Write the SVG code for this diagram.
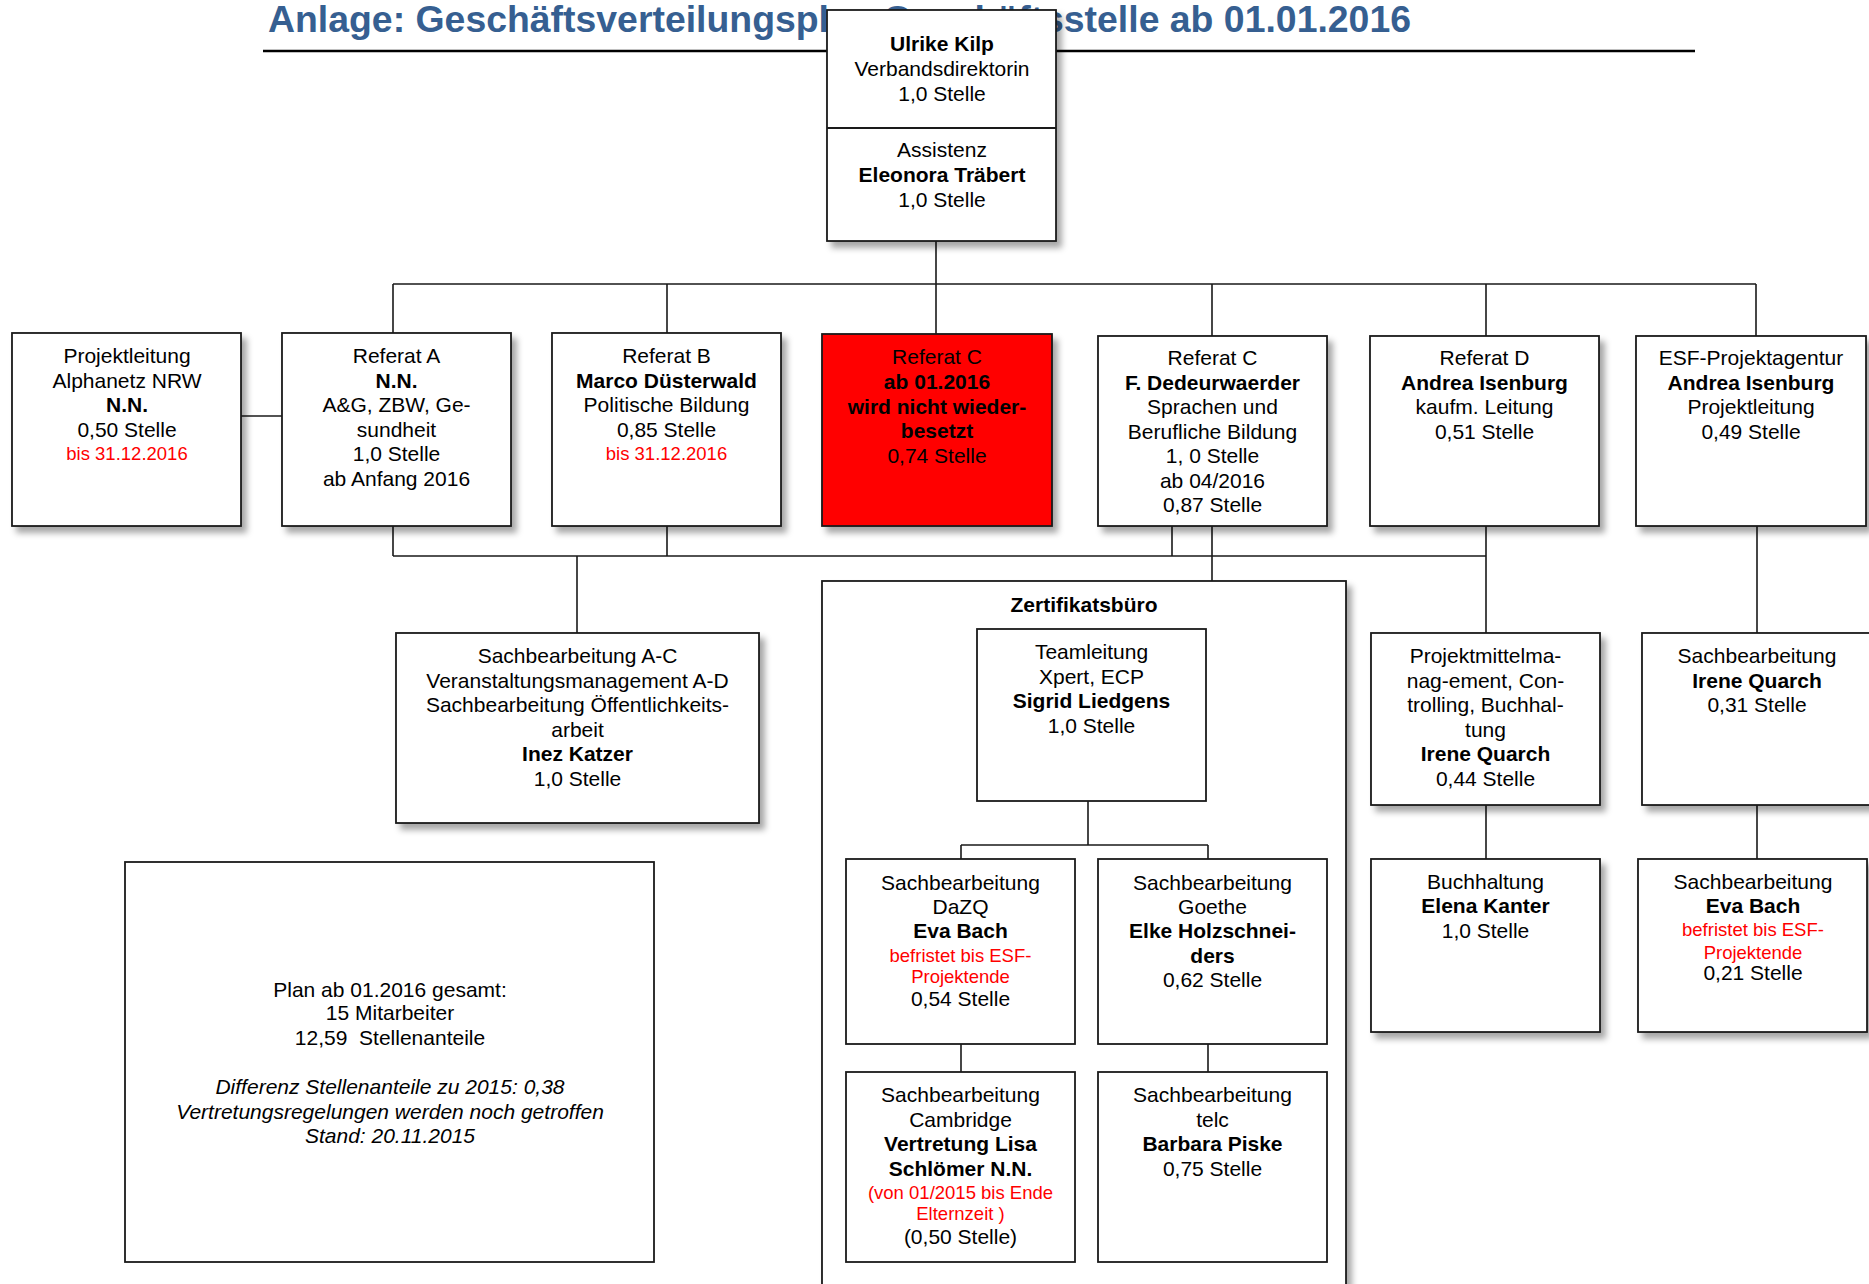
<svg xmlns="http://www.w3.org/2000/svg" width="1869" height="1284" viewBox="0 0 1869 1284">
<defs>
<filter id="sh" x="-10%" y="-10%" width="130%" height="130%">
<feDropShadow dx="5" dy="6" stdDeviation="3" flood-color="#000" flood-opacity="0.35"/>
</filter>
<style>
.b{fill:#fff;stroke:#1a1a1a;stroke-width:1.8}
.s{filter:url(#sh)}
.red{fill:#ff0000;stroke:#1a1a1a;stroke-width:1.8}
text{font-family:"Liberation Sans",Arial,sans-serif;font-size:21px;fill:#000;text-anchor:middle}
.bd{font-weight:bold}
.r{fill:#ff0000;font-size:18.5px}
.it{font-style:italic}
.title{font-size:37.4px;font-weight:bold;fill:#365f91;text-anchor:start}
.c{fill:none;stroke:#1a1a1a;stroke-width:1.6}
</style>
</defs>
<rect width="1869" height="1284" fill="#fff"/>
<g id="title">
<text class="title" x="268" y="32">Anlage: Geschäftsverteilungsplan Geschäftsstelle ab 01.01.2016</text>
<line x1="263" y1="51" x2="1695" y2="51" stroke="#000" stroke-width="2.5"/>
</g>
<g id="zertifikatsbuero">
<rect class="b s" x="822" y="581" width="524" height="740"/>
<text class="bd" x="1084" y="612">Zertifikatsbüro</text>
</g>
<g id="connectors" class="c">
<path d="M936 241V284M393 284H1756M393 284V333M667 284V333M936 284V334M1212 284V336M1486 284V336M1756 284V336"/>
<path d="M241 416H282"/>
<path d="M393 526V556M667 526V556M1172 526V556M1212 526V581M1486 526V633M393 556H1486M577 556V633"/>
<path d="M1757 526V633M1486 805V859M1757 805V859"/>
<path d="M1088 801V845M961 845H1208M961 845V859M1208 845V859M961 1044V1072M1208 1044V1072"/>
</g>
<g id="leitung">
<rect class="b s" x="827" y="10" width="229" height="231"/>
<line x1="827" y1="128" x2="1056" y2="128" stroke="#1a1a1a" stroke-width="1.8"/>
<text class="bd" x="942" y="51">Ulrike Kilp</text>
<text x="942" y="76">Verbandsdirektorin</text>
<text x="942" y="101">1,0 Stelle</text>
<text x="942" y="157">Assistenz</text>
<text class="bd" x="942" y="182">Eleonora Träbert</text>
<text x="942" y="207">1,0 Stelle</text>
</g>
<g id="projektleitung">
<rect class="b s" x="12" y="333" width="229" height="193"/>
<text x="127" y="363">Projektleitung</text>
<text x="127" y="387.5">Alphanetz NRW</text>
<text class="bd" x="127" y="412">N.N.</text>
<text x="127" y="436.5">0,50 Stelle</text>
<text class="r" x="127" y="460">bis 31.12.2016</text>
</g>
<g id="referatA">
<rect class="b s" x="282" y="333" width="229" height="193"/>
<text x="396.5" y="363">Referat A</text>
<text class="bd" x="396.5" y="387.5">N.N.</text>
<text x="396.5" y="412">A&amp;G, ZBW, Ge-</text>
<text x="396.5" y="436.5">sundheit</text>
<text x="396.5" y="461">1,0 Stelle</text>
<text x="396.5" y="485.5">ab Anfang 2016</text>
</g>
<g id="referatB">
<rect class="b s" x="552" y="333" width="229" height="193"/>
<text x="666.5" y="363">Referat B</text>
<text class="bd" x="666.5" y="387.5">Marco Düsterwald</text>
<text x="666.5" y="412">Politische Bildung</text>
<text x="666.5" y="436.5">0,85 Stelle</text>
<text class="r" x="666.5" y="460">bis 31.12.2016</text>
</g>
<g id="referatC-alt">
<rect class="red s" x="822" y="334" width="230" height="192"/>
<text x="937" y="364">Referat C</text>
<text class="bd" x="937" y="389">ab 01.2016</text>
<text class="bd" x="937" y="413.5">wird nicht wieder-</text>
<text class="bd" x="937" y="438">besetzt</text>
<text x="937" y="462.5">0,74 Stelle</text>
</g>
<g id="referatC">
<rect class="b s" x="1098" y="336" width="229" height="190"/>
<text x="1212.5" y="365">Referat C</text>
<text class="bd" x="1212.5" y="389.5">F. Dedeurwaerder</text>
<text x="1212.5" y="414">Sprachen und</text>
<text x="1212.5" y="438.5">Berufliche Bildung</text>
<text x="1212.5" y="463">1, 0 Stelle</text>
<text x="1212.5" y="487.5">ab 04/2016</text>
<text x="1212.5" y="512">0,87 Stelle</text>
</g>
<g id="referatD">
<rect class="b s" x="1370" y="336" width="229" height="190"/>
<text x="1484.5" y="365">Referat D</text>
<text class="bd" x="1484.5" y="389.5">Andrea Isenburg</text>
<text x="1484.5" y="414">kaufm. Leitung</text>
<text x="1484.5" y="438.5">0,51 Stelle</text>
</g>
<g id="esf">
<rect class="b s" x="1636" y="336" width="230" height="190"/>
<text x="1751" y="365">ESF-Projektagentur</text>
<text class="bd" x="1751" y="389.5">Andrea Isenburg</text>
<text x="1751" y="414">Projektleitung</text>
<text x="1751" y="438.5">0,49 Stelle</text>
</g>
<g id="sachbearbeitungAC">
<rect class="b s" x="396" y="633" width="363" height="190"/>
<text x="577.5" y="663">Sachbearbeitung A-C</text>
<text x="577.5" y="687.5">Veranstaltungsmanagement A-D</text>
<text x="577.5" y="712">Sachbearbeitung Öffentlichkeits-</text>
<text x="577.5" y="736.5">arbeit</text>
<text class="bd" x="577.5" y="761">Inez Katzer</text>
<text x="577.5" y="785.5">1,0 Stelle</text>
</g>
<g id="teamleitung">
<rect class="b" x="977" y="629" width="229" height="172"/>
<text x="1091.5" y="659">Teamleitung</text>
<text x="1091.5" y="683.5">Xpert, ECP</text>
<text class="bd" x="1091.5" y="708">Sigrid Liedgens</text>
<text x="1091.5" y="732.5">1,0 Stelle</text>
</g>
<g id="dazq">
<rect class="b" x="846" y="859" width="229" height="185"/>
<text x="960.5" y="890">Sachbearbeitung</text>
<text x="960.5" y="914">DaZQ</text>
<text class="bd" x="960.5" y="938">Eva Bach</text>
<text class="r" x="960.5" y="961.5">befristet bis ESF-</text>
<text class="r" x="960.5" y="982.5">Projektende</text>
<text x="960.5" y="1006">0,54 Stelle</text>
</g>
<g id="goethe">
<rect class="b" x="1098" y="859" width="229" height="185"/>
<text x="1212.5" y="890">Sachbearbeitung</text>
<text x="1212.5" y="914">Goethe</text>
<text class="bd" x="1212.5" y="938">Elke Holzschnei-</text>
<text class="bd" x="1212.5" y="963">ders</text>
<text x="1212.5" y="987">0,62 Stelle</text>
</g>
<g id="cambridge">
<rect class="b" x="846" y="1072" width="229" height="190"/>
<text x="960.5" y="1102">Sachbearbeitung</text>
<text x="960.5" y="1127">Cambridge</text>
<text class="bd" x="960.5" y="1151">Vertretung Lisa</text>
<text class="bd" x="960.5" y="1176">Schlömer N.N.</text>
<text class="r" x="960.5" y="1198.5">(von 01/2015 bis Ende</text>
<text class="r" x="960.5" y="1219.5">Elternzeit )</text>
<text x="960.5" y="1244">(0,50 Stelle)</text>
</g>
<g id="telc">
<rect class="b" x="1098" y="1072" width="229" height="190"/>
<text x="1212.5" y="1102">Sachbearbeitung</text>
<text x="1212.5" y="1127">telc</text>
<text class="bd" x="1212.5" y="1151">Barbara Piske</text>
<text x="1212.5" y="1176">0,75 Stelle</text>
</g>
<g id="projektmittel">
<rect class="b s" x="1371" y="633" width="229" height="172"/>
<text x="1485.5" y="663">Projektmittelma-</text>
<text x="1485.5" y="687.5">nag-ement, Con-</text>
<text x="1485.5" y="712">trolling, Buchhal-</text>
<text x="1485.5" y="736.5">tung</text>
<text class="bd" x="1485.5" y="761">Irene Quarch</text>
<text x="1485.5" y="785.5">0,44 Stelle</text>
</g>
<g id="sachbearbeitung-quarch">
<rect class="b s" x="1642" y="633" width="229" height="172"/>
<text x="1757" y="663">Sachbearbeitung</text>
<text class="bd" x="1757" y="687.5">Irene Quarch</text>
<text x="1757" y="712">0,31 Stelle</text>
</g>
<g id="buchhaltung">
<rect class="b s" x="1371" y="859" width="229" height="173"/>
<text x="1485.5" y="889">Buchhaltung</text>
<text class="bd" x="1485.5" y="913">Elena Kanter</text>
<text x="1485.5" y="938">1,0 Stelle</text>
</g>
<g id="sachbearbeitung-bach">
<rect class="b s" x="1638" y="859" width="229" height="173"/>
<text x="1753" y="889">Sachbearbeitung</text>
<text class="bd" x="1753" y="913">Eva Bach</text>
<text class="r" x="1753" y="935.5">befristet bis ESF-</text>
<text class="r" x="1753" y="958.5">Projektende</text>
<text x="1753" y="980">0,21 Stelle</text>
</g>
<g id="summary">
<rect class="b" x="125" y="862" width="529" height="400"/>
<text x="390" y="997">Plan ab 01.2016 gesamt:</text>
<text x="390" y="1020">15 Mitarbeiter</text>
<text x="390" y="1045" xml:space="preserve">12,59  Stellenanteile</text>
<text class="it" x="390" y="1094">Differenz Stellenanteile zu 2015: 0,38</text>
<text class="it" x="390" y="1119">Vertretungsregelungen werden noch getroffen</text>
<text class="it" x="390" y="1143">Stand: 20.11.2015</text>
</g>
</svg>
